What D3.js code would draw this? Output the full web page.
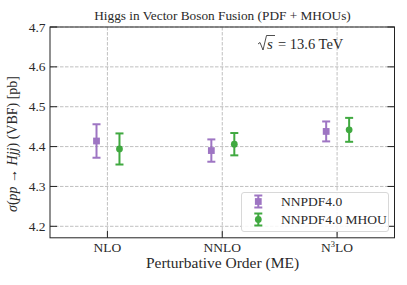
<!DOCTYPE html>
<html><head><meta charset="utf-8">
<script src="https://cdn.jsdelivr.net/npm/d3@7"></script>
<style>body{margin:0;background:#fff}svg{display:block}</style>
</head><body><div id="c"></div>
<script>
const categories = ["NLO","NNLO","N3LO"];
const nnpdfVal = [4.414, 4.390, 4.438];
const nnpdfErr = [0.042, 0.028, 0.025];
const mhouVal = [4.394, 4.406, 4.442];
const mhouErr = [0.039, 0.028, 0.030];
const yTicks = [4.2, 4.3, 4.4, 4.5, 4.6, 4.7];
const FONT = "'Liberation Serif', 'Times New Roman', serif";

const W=407,H=285, L=50, R=394.5, T=27, B=237.8;
const svg=d3.select("#c").append("svg").attr("width",W).attr("height",H).attr("font-family",FONT);
const x=d3.scaleLinear().domain([-0.5,2.5]).range([L,R]);
const y2=d3.scaleLinear().domain([4.2,4.7]).range([226.3,27]);

const g=svg.append("g");
g.selectAll(".hg").data(yTicks).join("line").attr("x1",L).attr("x2",R)
 .attr("y1",d=>y2(d)).attr("y2",d=>y2(d)).attr("stroke","#b0b0b0").attr("stroke-width",0.8).attr("stroke-dasharray","3.5,1.5");
g.selectAll(".vg").data(categories).join("line").attr("y1",T).attr("y2",B)
 .attr("x1",(d,i)=>x(i)).attr("x2",(d,i)=>x(i)).attr("stroke","#b0b0b0").attr("stroke-width",0.8).attr("stroke-dasharray","3.5,1.5");

function series(vals, errs, off, color, shape){
  const sg=svg.append("g").attr("opacity",0.9);
  vals.forEach((v,i)=>{
    const cx=x(i+off);
    sg.append("line").attr("x1",cx).attr("x2",cx).attr("y1",y2(v-errs[i])).attr("y2",y2(v+errs[i])).attr("stroke",color).attr("stroke-width",2);
    [v-errs[i],v+errs[i]].forEach(e=>sg.append("line").attr("x1",cx-4).attr("x2",cx+4).attr("y1",y2(e)).attr("y2",y2(e)).attr("stroke",color).attr("stroke-width",2));
    sg.append("path").attr("d",d3.symbol().type(shape).size(shape===d3.symbolSquare?46:36)()).attr("transform",`translate(${cx},${y2(v)})`).attr("fill",color);
  });
}
series(nnpdfVal,nnpdfErr,-0.095,"#9467bd",d3.symbolSquare);
series(mhouVal,mhouErr,0.105,"#2ca02c",d3.symbolCircle);

svg.append("rect").attr("x",L).attr("y",T).attr("width",R-L).attr("height",B-T).attr("fill","none").attr("stroke","#222").attr("stroke-width",1);
yTicks.forEach(t=>{
  svg.append("line").attr("x1",L).attr("x2",L+7).attr("y1",y2(t)).attr("y2",y2(t)).attr("stroke","#222");
  svg.append("line").attr("x1",R-7).attr("x2",R).attr("y1",y2(t)).attr("y2",y2(t)).attr("stroke","#222");
  svg.append("text").attr("x",45.5).attr("y",y2(t)+4.5).attr("text-anchor","end").attr("font-size",13.5).attr("fill","#2a2a2a").text(t.toFixed(1));
});
categories.forEach((c,i)=>{
  svg.append("line").attr("x1",x(i)).attr("x2",x(i)).attr("y1",B).attr("y2",B-7).attr("stroke","#222");
  const t=svg.append("text").attr("x",x(i)).attr("y",252).attr("text-anchor","middle").attr("font-size",13.5).attr("fill","#2a2a2a");
  if(c==="N3LO"){t.append("tspan").text("N");t.append("tspan").attr("font-size",8.5).attr("dy",-5).text("3");t.append("tspan").attr("dy",5).text("LO");}
  else t.text(c);
});
svg.append("text").attr("x",222.5).attr("y",268).attr("text-anchor","middle").attr("font-size",15.5).attr("fill","#2a2a2a").text("Perturbative Order (ME)");
svg.append("text").attr("x",222.5).attr("y",20).attr("text-anchor","middle").attr("font-size",13.3).attr("fill","#2a2a2a").text("Higgs in Vector Boson Fusion (PDF + MHOUs)");
const ann=svg.append("g").attr("fill","#2a2a2a");
ann.append("text").attr("x",267).attr("y",49).attr("font-size",15).attr("font-style","italic").text("s");
ann.append("path").attr("d","M258,44 L260,42.5 L263,50 L266.5,35.5 L275,35.5").attr("fill","none").attr("stroke","#222").attr("stroke-width",0.8);
ann.append("text").attr("x",278).attr("y",49).attr("font-size",14.5).text("= 13.6 TeV");
const yl=svg.append("text").attr("transform","translate(17,144) rotate(-90)").attr("text-anchor","middle").attr("font-size",14).attr("fill","#2a2a2a");
yl.append("tspan").attr("font-style","italic").text("σ");
yl.append("tspan").text("(");
yl.append("tspan").attr("font-style","italic").text("pp");
yl.append("tspan").text(" → ");
yl.append("tspan").attr("font-style","italic").text("Hjj");
yl.append("tspan").text(") (VBF) [pb]");
const lg=svg.append("g");
lg.append("rect").attr("x",241.5).attr("y",192.5).attr("width",147).attr("height",39).attr("rx",2.5).attr("fill","#fff").attr("fill-opacity",0.85).attr("stroke","#d8d8d8");
[["NNPDF4.0","#9467bd",d3.symbolSquare,201.5],["NNPDF4.0 MHOU","#2ca02c",d3.symbolCircle,219.5]].forEach(([lab,col,sh,ly])=>{
  const e=lg.append("g").attr("opacity",0.9);
  e.append("line").attr("x1",258.3).attr("x2",258.3).attr("y1",ly-6).attr("y2",ly+6).attr("stroke",col).attr("stroke-width",2);
  [ly-6,ly+6].forEach(yy=>e.append("line").attr("x1",254.3).attr("x2",262.3).attr("y1",yy).attr("y2",yy).attr("stroke",col).attr("stroke-width",2));
  e.append("path").attr("d",d3.symbol().type(sh).size(sh===d3.symbolSquare?46:36)()).attr("transform",`translate(258.3,${ly})`).attr("fill",col);
  lg.append("text").attr("x",281).attr("y",ly+4.5).attr("font-size",13.5).attr("fill","#2a2a2a").text(lab);
});
</script></body></html>
